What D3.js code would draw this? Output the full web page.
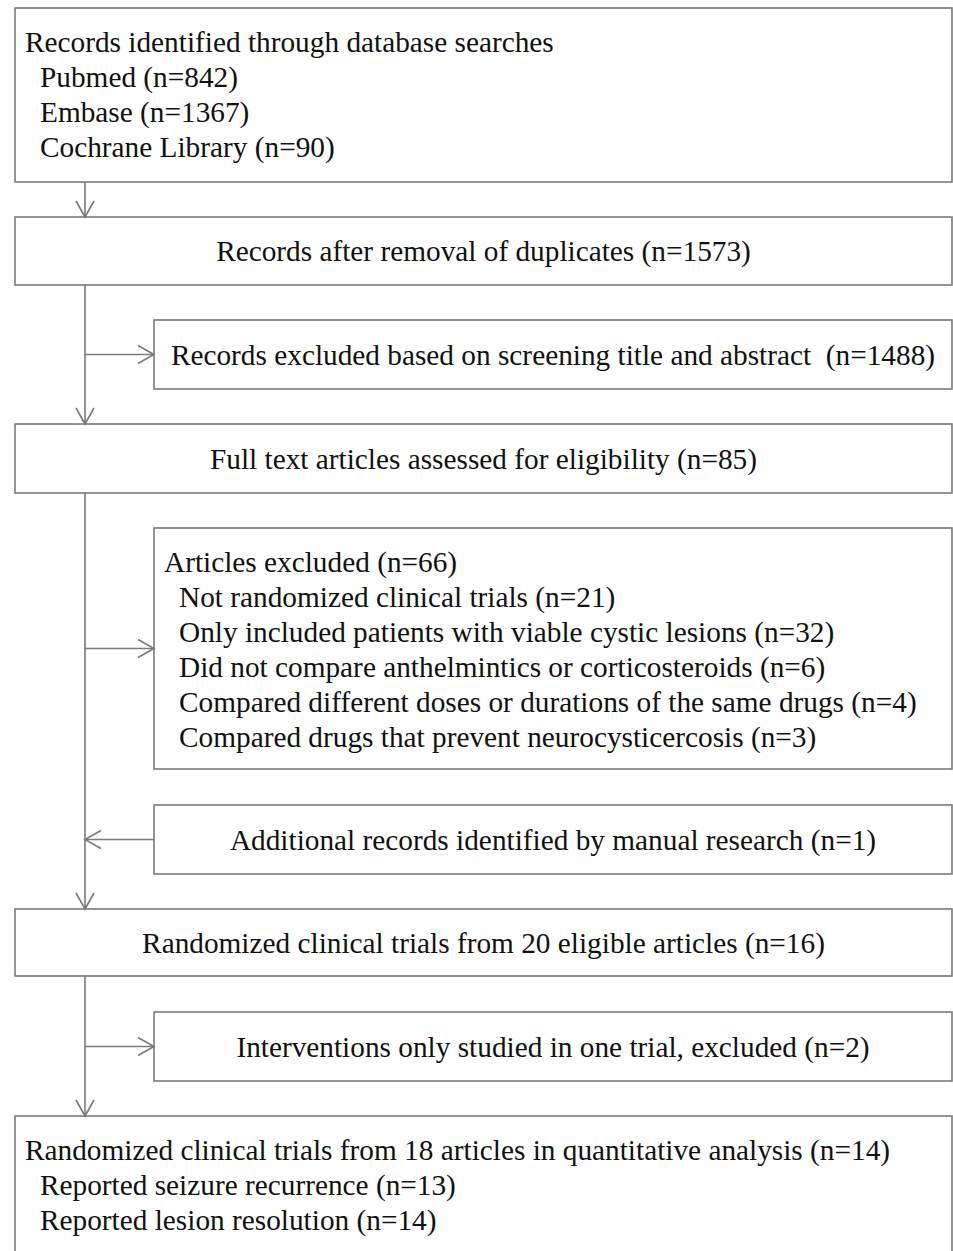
<!DOCTYPE html>
<html>
<head>
<meta charset="utf-8">
<script src="https://cdn.jsdelivr.net/npm/d3@7"></script>
<style>
  body { margin: 0; background: #fff; }
  text { font-family: "Liberation Serif", "Times New Roman", serif; fill: #111; white-space: pre; }
</style>
</head>
<body>
<div id="chart"></div>
<script>
// Box texts ----------------------------------------------
const searchLines = ["Records identified through database searches",
  "Pubmed (n=842)", "Embase (n=1367)", "Cochrane Library (n=90)"]
const dedupLines = ["Records after removal of duplicates (n=1573)"]
const screenLines = ["Records excluded based on screening title and abstract  (n=1488)"]
const fullTextLines = ["Full text articles assessed for eligibility (n=85)"]
const excludedLines = ["Articles excluded (n=66)",
  "Not randomized clinical trials (n=21)",
  "Only included patients with viable cystic lesions (n=32)",
  "Did not compare anthelmintics or corticosteroids (n=6)",
  "Compared different doses or durations of the same drugs (n=4)",
  "Compared drugs that prevent neurocysticercosis (n=3)"]
const manualLines = ["Additional records identified by manual research (n=1)"]
const rctLines = ["Randomized clinical trials from 20 eligible articles (n=16)"]
const oneTrialLines = ["Interventions only studied in one trial, excluded (n=2)"]
const finalLines = ["Randomized clinical trials from 18 articles in quantitative analysis (n=14)",
  "Reported seizure recurrence (n=13)", "Reported lesion resolution (n=14)"]

// Canvas setup -----------------------------------------
const WIDTH = 953, HEIGHT = 1251
const MAIN_X = 85, SIDE_X = 154, LEFT_X = 15, RIGHT_X = 952
const LINE_H = 35
const FONT = 29.3
const STROKE = "#7a7a7a"

const svg = d3.select("#chart").append("svg")
  .attr("width", WIDTH)
  .attr("height", HEIGHT)

// layout: [lines, x0, y0, y1, align]
const boxes = [
  {lines: searchLines,   x0: LEFT_X, y0: 8,    y1: 182,  align: "left"},
  {lines: dedupLines,    x0: LEFT_X, y0: 217,  y1: 285,  align: "center"},
  {lines: screenLines,   x0: SIDE_X, y0: 320,  y1: 389,  align: "center"},
  {lines: fullTextLines, x0: LEFT_X, y0: 424,  y1: 493,  align: "center"},
  {lines: excludedLines, x0: SIDE_X, y0: 528,  y1: 769,  align: "left"},
  {lines: manualLines,   x0: SIDE_X, y0: 805,  y1: 874,  align: "center"},
  {lines: rctLines,      x0: LEFT_X, y0: 909,  y1: 976,  align: "center"},
  {lines: oneTrialLines, x0: SIDE_X, y0: 1012, y1: 1081, align: "center"},
  {lines: finalLines,    x0: LEFT_X, y0: 1116, y1: 1262, align: "left"}
]

const gBox = svg.selectAll("g.box").data(boxes).enter().append("g")
  .attr("class", "box")

gBox.append("rect")
  .attr("x", d => d.x0)
  .attr("y", d => d.y0)
  .attr("width", d => RIGHT_X - d.x0)
  .attr("height", d => d.y1 - d.y0)
  .attr("fill", "none")
  .attr("stroke", STROKE)
  .attr("stroke-width", 1.6)

gBox.each(function(d) {
  const g = d3.select(this)
  if (d.align === "center") {
    g.append("text")
      .attr("x", (d.x0 + RIGHT_X) / 2)
      .attr("y", (d.y0 + d.y1) / 2 + 10)
      .attr("text-anchor", "middle")
      .attr("font-size", FONT)
      .text(d.lines[0])
  } else {
    g.selectAll("text").data(d.lines).enter().append("text")
      .attr("x", (t, i) => d.x0 + (i === 0 ? 10 : 25))
      .attr("y", (t, i) => d.y0 + 44 + i * LINE_H)
      .attr("font-size", FONT)
      .text(t => t)
  }
})

// Arrows ------------------------------------------------
function arrowHead(x, y, dir) {
  // open V head, tip at (x, y)
  const L = 16, W = 9
  let pts
  if (dir === "down") pts = [[x - W, y - L], [x, y], [x + W, y - L]]
  if (dir === "right") pts = [[x - L, y - W], [x, y], [x - L, y + W]]
  if (dir === "left") pts = [[x + L, y - W], [x, y], [x + L, y + W]]
  svg.append("path")
    .attr("d", d3.line()(pts))
    .attr("fill", "none")
    .attr("stroke", STROKE)
    .attr("stroke-width", 1.6)
}
function seg(x1, y1, x2, y2) {
  svg.append("line")
    .attr("x1", x1).attr("y1", y1).attr("x2", x2).attr("y2", y2)
    .attr("stroke", STROKE)
    .attr("stroke-width", 1.6)
}

const b = boxes
// main vertical runs
;[[0, 1], [1, 3], [3, 6], [6, 8]].forEach(([a, c]) => {
  seg(MAIN_X, b[a].y1, MAIN_X, b[c].y0)
  arrowHead(MAIN_X, b[c].y0, "down")
})
// side branches
;[2, 4, 7].forEach(i => {
  const y = (b[i].y0 + b[i].y1) / 2
  seg(MAIN_X, y, SIDE_X, y)
  arrowHead(SIDE_X, y, "right")
})
{
  const y = (b[5].y0 + b[5].y1) / 2
  seg(SIDE_X, y, MAIN_X, y)
  arrowHead(MAIN_X, y, "left")
}
</script>
</body>
</html>
